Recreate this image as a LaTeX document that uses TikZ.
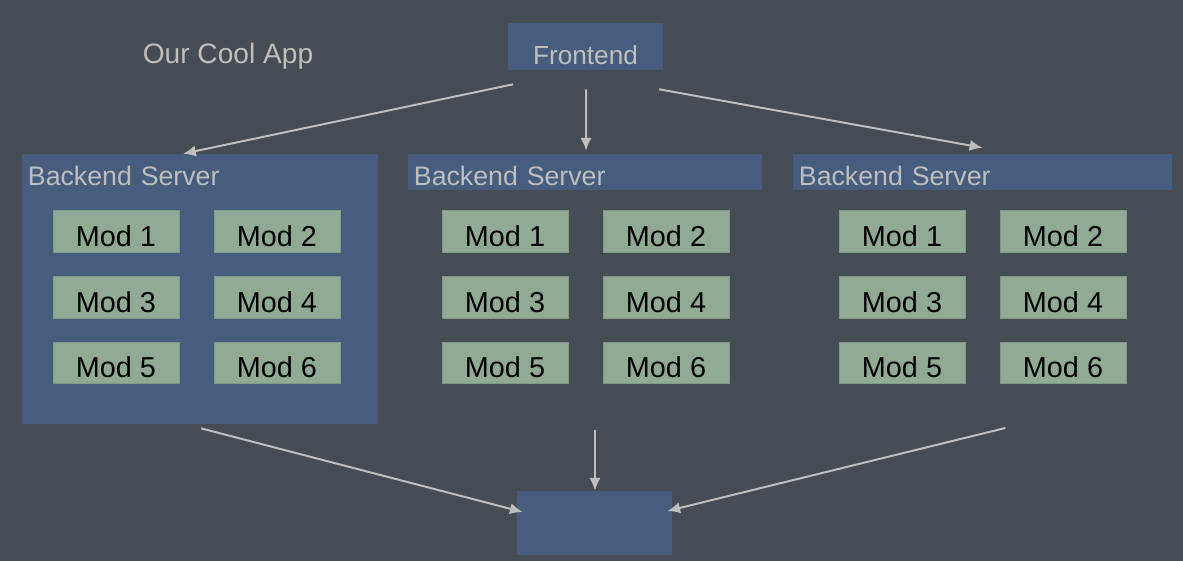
\documentclass[tikz,border=0pt]{standalone}
\usepackage{fontspec}
\setmainfont{Liberation Sans}
\usetikzlibrary{arrows.meta, calc, positioning}
\definecolor{slatebg}{HTML}{464C53}
\definecolor{boxblue}{HTML}{475D7D}
\definecolor{modgreen}{HTML}{90AA96}
\definecolor{modline}{HTML}{7F9A86}
\definecolor{lightgray}{HTML}{BEBEBE}
\tikzset{
  % arrow style
  garr/.style={
    draw=lightgray
    , line width=0.05cm
    , >={Latex[length=3.2mm,width=2.8mm]}
  },
}
\tikzset{
  % blue box style
  appbox/.style={
    fill=boxblue
    , text=lightgray
    , inner sep=0pt
    , anchor=center
    , font=\fontsize{18.6pt}{20pt}\selectfont
  },
  % header strip of a server
  srvhdr/.style={
    appbox
    , align=left
    , inner xsep=0.15cm
    , text height=0.79cm
    , text depth=0.11cm
    , font=\fontsize{19pt}{21pt}\selectfont
  },
  % module box style
  modbox/.style={
    draw=modline
    , fill=modgreen
    , line width=0.4pt
    , inner sep=0pt
    , minimum width=3.15cm
    , text height=0.8875cm
    , text depth=0.15cm
    , text centered
    , font=\fontsize{20.5pt}{22pt}\selectfont
  },
}

\begin{document}
\begin{tikzpicture}[x=0.025cm, y=-0.025cm]
      \fill[slatebg] (0,0) rectangle (1183,561);
      \useasboundingbox (0,0) rectangle (1183,561);

      \node[text=lightgray, anchor=base, font=\fontsize{20pt}{22pt}\selectfont] (title) at (228,63) {Our Cool App};
      \node[appbox, minimum width=3.875cm, text height=1.025cm, text depth=0.15cm] (fe) at (585.5,46.5) {Frontend};

      \node[appbox, minimum width=8.9cm, minimum height=6.75cm] (sv1) at (200,289) {};
      \node[srvhdr, text width=8.6cm] (hd1) at (200,172) {Backend Server};
      \node[srvhdr, text width=8.55cm] (hd2) at (585,172) {Backend Server};
      \node[srvhdr, text width=9.175cm] (hd3) at (982.5,172) {Backend Server};

      \node[modbox] (ma1) at (116,231.5) {Mod 1};
      \node[modbox] (ma2) at (277,231.5) {Mod 2};
      \node[modbox] (ma3) at (116,297.5) {Mod 3};
      \node[modbox] (ma4) at (277,297.5) {Mod 4};
      \node[modbox] (ma5) at (116,363) {Mod 5};
      \node[modbox] (ma6) at (277,363) {Mod 6};

      \node[modbox] (mb1) at (505,231.5) {Mod 1};
      \node[modbox] (mb2) at (666,231.5) {Mod 2};
      \node[modbox] (mb3) at (505,297.5) {Mod 3};
      \node[modbox] (mb4) at (666,297.5) {Mod 4};
      \node[modbox] (mb5) at (505,363) {Mod 5};
      \node[modbox] (mb6) at (666,363) {Mod 6};

      \node[modbox] (mc1) at (902,231.5) {Mod 1};
      \node[modbox] (mc2) at (1063,231.5) {Mod 2};
      \node[modbox] (mc3) at (902,297.5) {Mod 3};
      \node[modbox] (mc4) at (1063,297.5) {Mod 4};
      \node[modbox] (mc5) at (902,363) {Mod 5};
      \node[modbox] (mc6) at (1063,363) {Mod 6};

      \node[appbox, minimum width=3.875cm, minimum height=1.6cm] (out) at (594.5,523) {};

      \draw[garr,->] ([xshift=-1.81cm, yshift=-0.35cm]fe.south) -- ([xshift=-0.425cm]hd1.north);
      \draw[garr,->] ([xshift=0.0125cm, yshift=-0.475cm]fe.south) -- ([xshift=0.025cm, yshift=0.075cm]hd2.north);
      \draw[garr,->] ([xshift=1.84cm, yshift=-0.475cm]fe.south) -- ([yshift=0.15cm]hd3.north);

      \draw[garr,->] ([xshift=0.025cm, yshift=-0.1cm]sv1.south) -- ([xshift=0.15cm, yshift=0.275cm]out.west);
      \draw[garr,->] ([xshift=0.0125cm, yshift=1.525cm]out.north) -- ([xshift=0.0125cm]out.north);
      \draw[garr,->] ([xshift=8.325cm, yshift=2.375cm]out.east) -- ([xshift=-0.125cm, yshift=0.3cm]out.east);
    \end{tikzpicture}
\end{document}
